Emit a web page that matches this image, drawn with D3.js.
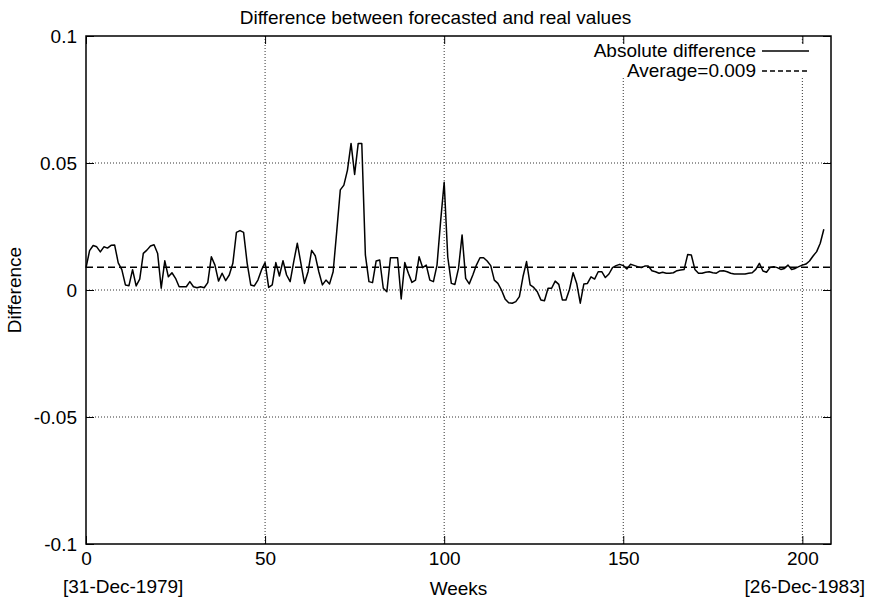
<!DOCTYPE html>
<html>
<head>
<meta charset="utf-8">
<script src="https://cdn.jsdelivr.net/npm/d3@7"></script>
<style>
  body { margin: 0; background: #fff; }
  svg { font-family: "Liberation Sans", Arial, sans-serif; }
</style>
</head>
<body>
<svg id="svg" width="871" height="599"></svg>
<script>

// weekly difference, week 0 .. 206
var diffValues = [
    0.0087, 0.0155, 0.0175, 0.017, 0.015, 0.017, 0.0165, 0.0176, 0.0177, 0.0107,
    0.008, 0.002, 0.0017, 0.008, 0.0016, 0.0043, 0.0144, 0.0157, 0.0173, 0.0178,
    0.0144, 0.0007, 0.0115, 0.0052, 0.0068, 0.0046, 0.0013, 0.0013, 0.0013, 0.0033,
    0.0013, 0.0009, 0.0013, 0.0009, 0.0029, 0.0131, 0.0098, 0.0035, 0.0066, 0.0037,
    0.0059, 0.0105, 0.0227, 0.0234, 0.0227, 0.0105, 0.002, 0.0016, 0.0039, 0.0079,
    0.0108, 0.001, 0.002, 0.0108, 0.0055, 0.0115, 0.0059, 0.0033, 0.0112, 0.0184,
    0.0105, 0.0026, 0.0072, 0.0156, 0.0135, 0.0072, 0.002, 0.0039, 0.0024, 0.0072,
    0.023, 0.0394, 0.0413, 0.0472, 0.0577, 0.0455, 0.0577, 0.0577, 0.0138, 0.0033,
    0.0029, 0.0114, 0.0118, 0.0007, -0.0007, 0.0127, 0.0127, 0.0127, -0.0035, 0.0108,
    0.0066, 0.003, 0.0039, 0.0131, 0.0088, 0.0098, 0.0039, 0.0033, 0.0098, 0.0269,
    0.0424, 0.013, 0.0026, 0.0022, 0.0085, 0.0217, 0.0046, 0.0024, 0.0059, 0.0098,
    0.0127, 0.0127, 0.0114, 0.0096, 0.0039, 0.0026, 0, -0.0035, -0.005, -0.0052,
    -0.0046, -0.0026, 0.0052, 0.0112, 0.002, 0.001, -0.0007, -0.0039, -0.0042, 0.0007,
    0.0007, 0.0035, 0.0022, -0.0039, -0.0039, 0.0003, 0.0068, 0.0026, -0.0052, 0.0024,
    0.0026, 0.0052, 0.0043, 0.0072, 0.0072, 0.0049, 0.0063, 0.0088, 0.0096, 0.0101,
    0.0096, 0.0083, 0.0101, 0.0097, 0.0092, 0.0088, 0.0094, 0.0094, 0.0076, 0.0072,
    0.0066, 0.007, 0.0066, 0.0066, 0.0068, 0.0076, 0.0079, 0.0081, 0.014, 0.0138,
    0.0081, 0.0066, 0.0066, 0.007, 0.0072, 0.0068, 0.0066, 0.0075, 0.0076, 0.0072,
    0.0066, 0.0063, 0.0063, 0.0063, 0.0063, 0.0066, 0.0068, 0.0081, 0.0105, 0.0075,
    0.007, 0.0089, 0.0092, 0.0088, 0.0081, 0.0085, 0.0098, 0.0081, 0.0085, 0.0092,
    0.0098, 0.0102, 0.0114, 0.0134, 0.0151, 0.0184, 0.0239
];
var averageValue = 0.009;

var xTicks = [0, 50, 100, 150, 200];
var yTicks = [-0.1, -0.05, 0, 0.05, 0.1];
var yTickLabels = ["-0.1", "-0.05", "0", "0.05", "0.1"];
var gridX = [50, 100, 150, 200];
var gridY = [-0.05, 0, 0.05];
var dateLabels = ["[31-Dec-1979]", "[26-Dec-1983]"];
var legendLabels = ["Absolute difference", "Average=0.009"];

var svg = d3.select("#svg");
var fontSize = 19;

var padding = {top: 36, right: 40, bottom: 55, left: 86};
var chartArea = {
    "width": 871 - padding.left - padding.right,
    "height": 599 - padding.top - padding.bottom
};

var xScale = d3.scaleLinear()
    .domain([0, 208])
    .range([0, chartArea.width]);

var yScale = d3.scaleLinear()
    .domain([-0.1, 0.1])
    .range([chartArea.height, 0]);

var plot = svg.append("g")
    .attr("transform", "translate(" + padding.left + "," + padding.top + ")");

// dotted grid
plot.append("g").selectAll("line.gx")
    .data(gridX)
    .enter().append("line")
    .attr("x1", function (d) { return xScale(d); })
    .attr("x2", function (d) { return xScale(d); })
    .attr("y1", 0)
    .attr("y2", chartArea.height)
    .attr("stroke", "#333")
    .attr("stroke-width", 1)
    .attr("stroke-dasharray", "1,2");

plot.append("g").selectAll("line.gy")
    .data(gridY)
    .enter().append("line")
    .attr("x1", 0)
    .attr("x2", chartArea.width)
    .attr("y1", function (d) { return yScale(d); })
    .attr("y2", function (d) { return yScale(d); })
    .attr("stroke", "#333")
    .attr("stroke-width", 1)
    .attr("stroke-dasharray", "1,2");

// key background first (opaque box hides the grid behind it)
var keyRight = chartArea.width - 9;
plot.append("rect")
    .attr("x", keyRight - 232)
    .attr("y", 8)
    .attr("width", 236)
    .attr("height", 34)
    .attr("fill", "#fff");

// axes, ticks pointing inward on all four sides
var tickFmt = function (d) { return yTickLabels[yTicks.indexOf(d)]; };

var yAxis = plot.append("g")
    .call(d3.axisLeft(yScale).tickValues(yTicks).tickFormat(tickFmt)
        .tickSizeInner(-8).tickSizeOuter(0).tickPadding(9));

var yAxisR = plot.append("g")
    .attr("transform", "translate(" + chartArea.width + ",0)")
    .call(d3.axisRight(yScale).tickValues(yTicks).tickFormat("")
        .tickSizeInner(-8).tickSizeOuter(0));

var xAxis = plot.append("g")
    .attr("transform", "translate(0," + chartArea.height + ")")
    .call(d3.axisBottom(xScale).tickValues(xTicks).tickFormat(d3.format("d"))
        .tickSizeInner(-8).tickSizeOuter(0).tickPadding(8));

var xAxisT = plot.append("g")
    .call(d3.axisTop(xScale).tickValues(xTicks).tickFormat("")
        .tickSizeInner(-8).tickSizeOuter(0));

plot.selectAll(".domain").remove();
plot.selectAll(".tick line").attr("stroke", "#000").attr("stroke-width", 1);
plot.selectAll(".tick text")
    .attr("fill", "#000")
    .style("font-size", fontSize + "px")
    .style("font-family", "'Liberation Sans', Arial, sans-serif");

// average line
plot.append("line")
    .attr("x1", 0)
    .attr("x2", chartArea.width)
    .attr("y1", yScale(averageValue))
    .attr("y2", yScale(averageValue))
    .attr("stroke", "#000")
    .attr("stroke-width", 1.5)
    .attr("stroke-dasharray", "7,4");

// data line
var line = d3.line()
    .x(function (d, i) { return xScale(i); })
    .y(function (d) { return yScale(d); });

plot.append("path")
    .datum(diffValues)
    .attr("d", line)
    .attr("fill", "none")
    .attr("stroke", "#000")
    .attr("stroke-width", 1.5)
    .attr("stroke-linejoin", "round");

// key entries
var key = plot.append("g");
legendLabels.forEach(function (lab, i) {
    var yy = 14 + i * 20;
    key.append("text")
        .attr("x", keyRight - 66)
        .attr("y", yy)
        .attr("dy", "0.35em")
        .attr("text-anchor", "end")
        .style("font-size", fontSize + "px")
        .text(lab);
    key.append("line")
        .attr("x1", keyRight - 60)
        .attr("x2", keyRight - 13)
        .attr("y1", yy + 1)
        .attr("y2", yy + 1)
        .attr("stroke", "#000")
        .attr("stroke-width", 1.5)
        .attr("stroke-dasharray", i === 0 ? null : "5,3");
});

// border
plot.append("rect")
    .attr("x", 0)
    .attr("y", 0)
    .attr("width", chartArea.width)
    .attr("height", chartArea.height)
    .attr("fill", "none")
    .attr("stroke", "#000")
    .attr("stroke-width", 1.5);

// titles
svg.append("text")
    .attr("x", 435.5)
    .attr("y", 24)
    .attr("text-anchor", "middle")
    .style("font-size", fontSize + "px")
    .text("Difference between forecasted and real values");

svg.append("text")
    .attr("x", padding.left + chartArea.width / 2)
    .attr("y", 595)
    .attr("text-anchor", "middle")
    .style("font-size", fontSize + "px")
    .text("Weeks");

svg.append("text")
    .attr("transform", "translate(21," + (padding.top + chartArea.height / 2) + ") rotate(-90)")
    .attr("text-anchor", "middle")
    .style("font-size", fontSize + "px")
    .text("Difference");

svg.append("text")
    .attr("x", 63)
    .attr("y", 593)
    .style("font-size", fontSize + "px")
    .text(dateLabels[0]);

svg.append("text")
    .attr("x", 865)
    .attr("y", 593)
    .attr("text-anchor", "end")
    .style("font-size", fontSize + "px")
    .text(dateLabels[1]);

</script>
</body>
</html>
